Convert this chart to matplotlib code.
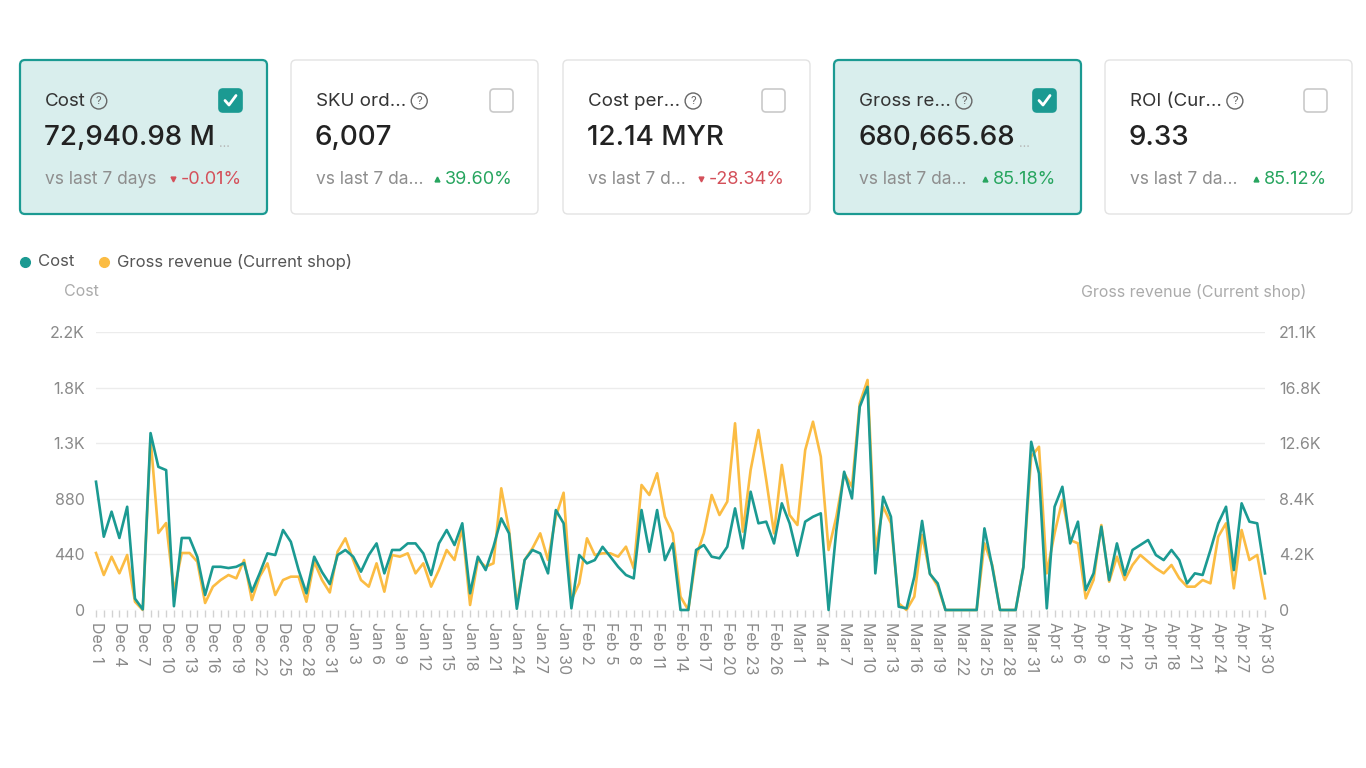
import numpy as np
import pandas as pd
import matplotlib
matplotlib.use("Agg")
import matplotlib.pyplot as plt
from matplotlib.patches import FancyBboxPatch, Circle

plt.rcParams['font.family'] = ['Inter', 'DejaVu Sans']

# === Data ===
dates = pd.date_range("2024-12-01", "2025-04-30", freq="D")

cost = [
    1015, 580, 778, 570, 817, 90, 5, 1400, 1133, 1107,
    30, 570, 570, 420, 119, 342, 342, 332, 342, 372,
    145, 290, 448, 435, 633, 540, 316, 132, 422, 300,
    205, 435, 475, 422, 303, 435, 527, 290, 475, 475,
    527, 527, 448, 277, 527, 633, 514, 686, 132, 422,
    316, 500, 725, 606, 10, 395, 475, 448, 290, 791,
    686, 13, 435, 369, 395, 500, 422, 342, 277, 250,
    791, 461, 791, 395, 527, 0, 0, 475, 514, 422,
    409, 500, 804, 488, 936, 686, 699, 527, 844, 686,
    430, 699, 738, 765, 0, 633, 1094, 883, 1608, 1766,
    290, 896, 738, 26, 13, 263, 705, 285, 211, 0,
    0, 0, 0, 0, 646, 342, 0, 0, 0, 340,
    1331, 1080, 13, 817, 975, 527, 699, 158, 290, 659,
    237, 527, 277, 475, 514, 554, 435, 395, 475, 395,
    211, 290, 277, 475, 686, 817, 316, 844, 699, 686,
    290,
]

revenue = [
    4326, 2656, 4046, 2785, 4175, 630, 0, 13055, 5844, 6600,
    1400, 4326, 4326, 3667, 531, 1771, 2277, 2656, 2403, 3795,
    759, 2530, 3542, 1138, 2277, 2530, 2530, 630, 3667, 2277,
    1330, 4428, 5439, 3795, 2277, 1771, 3542, 1391, 4175, 4048,
    4302, 2783, 3542, 1771, 3036, 4554, 3795, 6200, 380, 3795,
    3289, 3542, 9237, 6072, 400, 3795, 4681, 5819, 3795, 7085,
    8900, 759, 2024, 5439, 4175, 4302, 4302, 4048, 4807, 3163,
    9490, 8729, 10377, 7085, 5819, 1012, 0, 4048, 5819, 8729,
    7210, 8223, 14170, 5945, 10630, 13660, 9870, 5819, 11010, 7210,
    6450, 12140, 14290, 11640, 4554, 7085, 10377, 9364, 15690, 17460,
    4554, 7843, 6580, 506, 0, 1012, 5700, 2783, 1800, 0,
    0, 0, 0, 0, 5060, 3416, 0, 0, 0, 3289,
    11640, 12390, 2783, 5819, 8349, 5313, 5060, 886, 2277, 6450,
    2150, 4048, 2277, 3416, 4175, 3667, 3163, 2783, 3416, 2403,
    1771, 1771, 2277, 2024, 5566, 6580, 1645, 6072, 3795, 4175,
    886,
]

cost_ticks = [0, 440, 880, 1320, 1760, 2200]
cost_labels = ["0", "440", "880", "1.3K", "1.8K", "2.2K"]
rev_ticks = [0, 4220, 8440, 12660, 16880, 21100]
rev_labels = ["0", "4.2K", "8.4K", "12.6K", "16.8K", "21.1K"]

card_titles = ["Cost", "SKU ord...", "Cost per...", "Gross re...", "ROI (Cur..."]
card_values = ["72,940.98 M", "6,007", "12.14 MYR", "680,665.68", "9.33"]
card_value_trunc = [True, False, False, True, False]
card_vs = ["vs last 7 days", "vs last 7 da...", "vs last 7 d...", "vs last 7 da...", "vs last 7 da..."]
card_pct = ["-0.01%", "39.60%", "-28.34%", "85.18%", "85.12%"]
card_up = [False, True, False, True, True]
card_selected = [True, False, False, True, False]

# === Style ===
TEAL = "#1b9a92"
ORANGE = "#fbbc43"
RED = "#d4505a"
GREEN = "#27a55f"
W, H = 1366, 768

fig = plt.figure(figsize=(W / 100, H / 100), dpi=100)
fig.patch.set_facecolor("white")

# overlay in pixel coordinates for the cards, legend and axis titles
ov = fig.add_axes([0, 0, 1, 1])
ov.set_xlim(0, W)
ov.set_ylim(H, 0)
ov.axis("off")
ov.set_zorder(0)

renderer = fig.canvas.get_renderer()


def text_x(t, side):
    bb = t.get_window_extent(renderer)
    x = bb.x1 if side == "right" else bb.x0
    return ov.transData.inverted().transform((x, bb.y0))[0]


card_x0 = [20, 291, 563, 834, 1105]
card_w, card_top, card_bot = 247, 60, 214

for i in range(5):
    x0 = card_x0[i]
    x1 = x0 + card_w
    sel = card_selected[i]
    box = FancyBboxPatch((x0, card_top), card_w, card_bot - card_top,
                         boxstyle="round,pad=0,rounding_size=5",
                         facecolor="#d9eeed" if sel else "white",
                         edgecolor=TEAL if sel else "#e3e3e3",
                         linewidth=1.6 if sel else 1.0)
    ov.add_patch(box)

    t = ov.text(x0 + 25, 101, card_titles[i], fontsize=13.5, color="#333333",
                ha="left", va="center")
    ix = text_x(t, "right") + 13
    ov.add_patch(Circle((ix, 101), 8, facecolor="none", edgecolor="#666666", lw=1.0))
    ov.text(ix, 101.5, "?", fontsize=8, color="#666666", ha="center", va="center")

    # checkbox
    cb = FancyBboxPatch((x1 - 48, 89), 23, 23, boxstyle="round,pad=0,rounding_size=4",
                        facecolor=TEAL if sel else "white",
                        edgecolor=TEAL if sel else "#c9c9c9", linewidth=1.2)
    ov.add_patch(cb)
    if sel:
        ov.plot([x1 - 42, x1 - 38, x1 - 31], [100.5, 105, 95.5], color="white",
                lw=2, solid_capstyle="round", solid_joinstyle="round")

    v = ov.text(x0 + 24, 138, card_values[i], fontsize=20, color="#222222",
                fontweight="medium", ha="left", va="center")
    if card_value_trunc[i]:
        ov.text(text_x(v, "right") + 4, 144, "...", fontsize=9, color="#b5b5b5",
                ha="left", va="center")

    ov.text(x0 + 25, 180, card_vs[i], fontsize=12.5, color="#8e8e8e", ha="left", va="center")
    col = GREEN if card_up[i] else RED
    p = ov.text(x1 - 25, 180, card_pct[i], fontsize=13, color=col, ha="right", va="center")
    ov.plot([text_x(p, "left") - 8], [179], marker="^" if card_up[i] else "v",
            markersize=3.5, color=col, linestyle="none")

# legend
ov.plot([25], [262], marker="o", markersize=7, color=TEAL, linestyle="none")
ov.text(38, 262, "Cost", fontsize=12, color="#555555", ha="left", va="center")
ov.plot([104], [262], marker="o", markersize=7, color=ORANGE, linestyle="none")
ov.text(117, 262, "Gross revenue (Current shop)", fontsize=12, color="#555555",
        ha="left", va="center")

# axis titles
ov.text(64, 292, "Cost", fontsize=11.5, color="#ababab", ha="left", va="center")
ov.text(1306, 292, "Gross revenue (Current shop)", fontsize=11.5, color="#ababab",
        ha="right", va="center")

# === Chart ===
days = np.arange(len(dates))
ax = fig.add_axes([96 / W, (H - 610) / H, (1265 - 96) / W, (610 - 332) / H])
ax2 = ax.twinx()
ax.set_zorder(3)
ax2.set_zorder(2)
ax.patch.set_visible(False)

ax2.plot(days, revenue, color=ORANGE, lw=1.9, clip_on=False)
ax.plot(days, cost, color=TEAL, lw=1.9, clip_on=False)

ax.set_xlim(0, len(dates) - 1)
ax.set_ylim(0, 2200)
ax2.set_ylim(0, 21100)

ax.set_yticks(cost_ticks)
ax.set_yticklabels(cost_labels)
ax2.set_yticks(rev_ticks)
ax2.set_yticklabels(rev_labels)
ax2.grid(axis="y", color="#ececec", lw=1)
ax2.set_axisbelow(True)

major = days[::3]
ax.set_xticks(major)
ax.set_xticklabels([f"{d:%b} {d.day}" for d in dates[::3]], rotation=-90,
                   ha="center", va="top")
ax.set_xticks(days, minor=True)

ax.tick_params(axis="y", length=0, pad=8, labelsize=11.5, labelcolor="#8a8a8a")
ax2.tick_params(axis="y", length=0, pad=10, labelsize=11.5, labelcolor="#8a8a8a")
ax.tick_params(axis="x", which="both", length=5, width=1, color="#d2d2d2",
               pad=4, labelsize=11.5, labelcolor="#8a8a8a")
ax2.tick_params(axis="x", which="both", length=0)

for a in (ax, ax2):
    for s in a.spines.values():
        s.set_visible(False)

fig.savefig("out.png", dpi=100, facecolor="white")
